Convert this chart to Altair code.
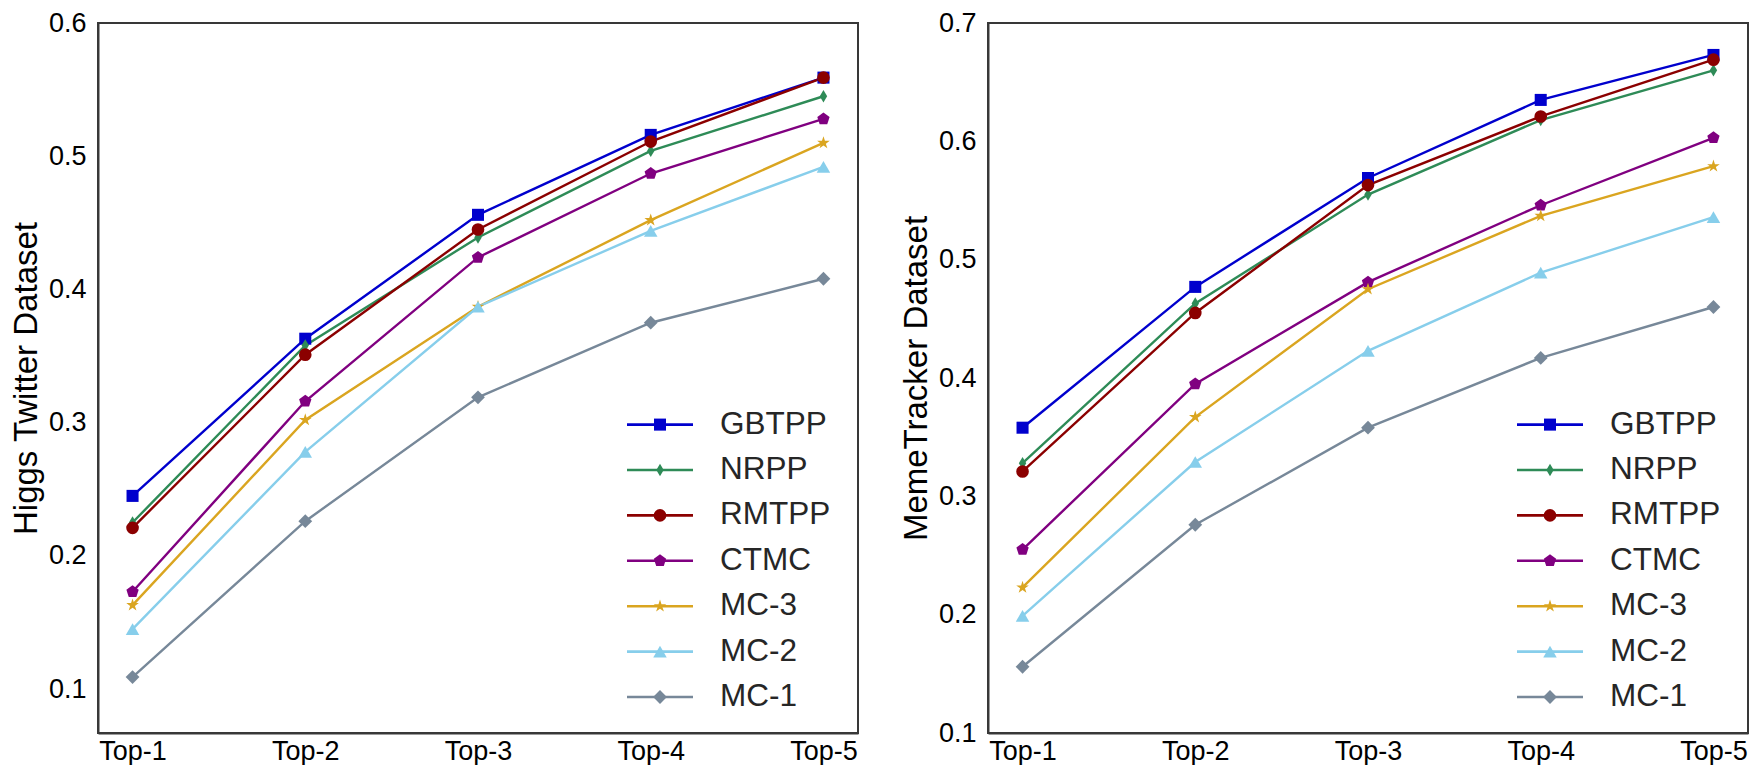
import altair as alt
import pandas as pd

categories = ["Top-1", "Top-2", "Top-3", "Top-4", "Top-5"]
series = ["GBTPP", "NRPP", "RMTPP", "CTMC", "MC-3", "MC-2", "MC-1"]
colors = ["#0000cd", "#2e8b57", "#8b0000", "#800080", "#daa520", "#87ceeb", "#778899"]

# marker shapes: square, thin diamond, circle, pentagon, star, triangle, diamond
shapes = [
    "square",
    "M0,-1L0.6,0L0,1L-0.6,0Z",
    "circle",
    "M0,-1L0.951,-0.309L0.588,0.809L-0.588,0.809L-0.951,-0.309Z",
    "M0,-1L0.2245,-0.309L0.951,-0.309L0.3633,0.118L0.588,0.809L0,0.382L-0.588,0.809L-0.3633,0.118L-0.951,-0.309L-0.2245,-0.309Z",
    "triangle-up",
    "diamond",
]
sizes = [145, 190, 140, 135, 120, 150, 170]

# Higgs Twitter Dataset
higgs_gbtpp = [0.245, 0.363, 0.456, 0.516, 0.559]
higgs_nrpp = [0.225, 0.358, 0.439, 0.504, 0.545]
higgs_rmtpp = [0.221, 0.351, 0.445, 0.511, 0.559]
higgs_ctmc = [0.173, 0.316, 0.424, 0.487, 0.528]
higgs_mc3 = [0.163, 0.302, 0.387, 0.452, 0.510]
higgs_mc2 = [0.145, 0.278, 0.387, 0.444, 0.492]
higgs_mc1 = [0.109, 0.226, 0.319, 0.375, 0.408]

# MemeTracker Dataset
meme_gbtpp = [0.358, 0.477, 0.569, 0.635, 0.673]
meme_nrpp = [0.328, 0.463, 0.555, 0.618, 0.660]
meme_rmtpp = [0.321, 0.455, 0.563, 0.621, 0.669]
meme_ctmc = [0.255, 0.395, 0.481, 0.546, 0.603]
meme_mc3 = [0.223, 0.367, 0.475, 0.537, 0.579]
meme_mc2 = [0.199, 0.329, 0.423, 0.489, 0.536]
meme_mc1 = [0.156, 0.276, 0.358, 0.417, 0.460]

higgs = [higgs_gbtpp, higgs_nrpp, higgs_rmtpp, higgs_ctmc, higgs_mc3, higgs_mc2, higgs_mc1]
meme = [meme_gbtpp, meme_nrpp, meme_rmtpp, meme_ctmc, meme_mc3, meme_mc2, meme_mc1]

FONT = "Liberation Sans"
TXT = "#262626"
FRAME = "#383838"
FW = 2


def to_df(vals):
    rows = []
    for s, v in zip(series, vals):
        for c, y in zip(categories, v):
            rows.append({"series": s, "cat": c, "value": y})
    return pd.DataFrame(rows)


legend_df = pd.DataFrame({"series": series, "row": list(range(len(series)))})

color_enc = alt.Color("series:N", scale=alt.Scale(domain=series, range=colors), legend=None)
shape_enc = alt.Shape("series:N", scale=alt.Scale(domain=series, range=shapes), legend=None)
size_enc = alt.Size("series:N", scale=alt.Scale(domain=series, range=sizes), legend=None)


def panel(vals, title, ymin, ymax, ticks, W, H):
    df = to_df(vals)
    x = alt.X("cat:N", sort=categories,
              scale=alt.Scale(type="point", domain=categories, padding=0.2),
              axis=alt.Axis(title=None, labelAngle=0, labelPadding=5, labelFontSize=27,
                            labelBaseline="top", domain=True, domainColor=FRAME,
                            domainWidth=FW, grid=False, ticks=False))
    yaxis = alt.Axis(title=title, values=ticks, format=".1f", labelPadding=12,
                     labelFontSize=27, titleFontSize=33, titleFontWeight="normal",
                     titlePadding=5, domain=True, domainColor=FRAME, domainWidth=FW,
                     grid=False, ticks=False)
    yscale = alt.Scale(domain=[ymin, ymax], nice=False, zero=False)
    y = alt.Y("value:Q", scale=yscale, axis=yaxis)
    line = alt.Chart(df).mark_line(strokeWidth=2.4).encode(x=x, y=y, color=color_enc,
                                                           order=alt.Order("cat:N"))
    pts = alt.Chart(df).mark_point(filled=True, opacity=1).encode(
        x=x, y=y, color=color_enc, shape=shape_enc, size=size_enc)
    data_layer = alt.layer(line, pts)

    y_last = H - 36
    y_first = y_last - 6 * 45.4
    ly = alt.Y("row:Q", scale=alt.Scale(domain=[0, 6], range=[y_first, y_last], nice=False, zero=False),
               axis=None)
    lrule = alt.Chart(legend_df).mark_rule(strokeWidth=2.6).encode(
        x=alt.value(W - 231), x2=alt.value(W - 165), y=ly, color=color_enc)
    lpt = alt.Chart(legend_df).mark_point(filled=True, opacity=1).encode(
        x=alt.value(W - 198), y=ly, color=color_enc, shape=shape_enc, size=size_enc)
    ltext = alt.Chart(legend_df).mark_text(align="left", baseline="middle", fontSize=31.5,
                                           font=FONT, color=TXT).encode(
        x=alt.value(W - 138), y=ly, text="series:N")
    legend_layer = alt.layer(lrule, lpt, ltext)
    return alt.layer(data_layer, legend_layer).resolve_scale(y="independent").properties(
        width=W, height=H, view=alt.ViewBackground(stroke=FRAME, strokeWidth=FW))


left = panel(higgs, "Higgs Twitter Dataset", 0.067, 0.6, [0.1, 0.2, 0.3, 0.4, 0.5, 0.6], 760, 710)
right = panel(meme, "MemeTracker Dataset", 0.1, 0.7, [0.1, 0.2, 0.3, 0.4, 0.5, 0.6, 0.7], 760, 710)

chart = alt.hconcat(left, right, spacing=40).properties(
    padding={"left": 1, "top": 0, "right": 2, "bottom": 0}
).configure_view(stroke=FRAME, strokeWidth=FW).configure_axis(
    labelFont=FONT, titleFont=FONT, labelColor=TXT, titleColor=TXT,
    grid=False, ticks=False
).configure(background="white")

chart.save("out.html", embed_options={"renderer": "svg", "actions": False})
